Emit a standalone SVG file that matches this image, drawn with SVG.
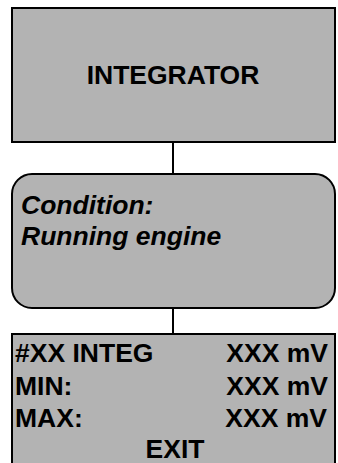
<svg xmlns="http://www.w3.org/2000/svg" width="338" height="463" viewBox="0 0 338 463">
<style>
.box{fill:#b3b3b3;stroke:#000;stroke-width:2}
.t{font-family:"Liberation Sans",Arial,sans-serif;font-size:26.5px;font-weight:bold;fill:#000}
.it{font-style:italic}
.c{stroke:#000;stroke-width:2;fill:none}
</style>
<rect width="338" height="463" fill="#fff"/>
<g id="connectors">
<line class="c" x1="173" y1="142" x2="173" y2="174"/>
<line class="c" x1="173" y1="308" x2="173" y2="334"/>
</g>
<g id="integrator">
<rect class="box" x="12" y="8" width="323" height="134"/>
<text class="t" x="173" y="84" text-anchor="middle">INTEGRATOR</text>
</g>
<g id="condition">
<rect class="box" x="12" y="174" width="323" height="134" rx="20" ry="20"/>
<text class="t it" x="21" y="214">Condition:</text>
<text class="t it" x="21" y="245">Running engine</text>
</g>
<g id="display">
<rect class="box" x="12" y="334" width="323" height="140"/>
<text class="t" x="15" y="362">#XX INTEG</text>
<text class="t" x="328" y="362" text-anchor="end">XXX mV</text>
<text class="t" x="15" y="395">MIN:</text>
<text class="t" x="328" y="395" text-anchor="end">XXX mV</text>
<text class="t" x="15" y="427">MAX:</text>
<text class="t" x="327" y="427" text-anchor="end">XXX mV</text>
<text class="t" x="175" y="458" text-anchor="middle">EXIT</text>
</g>
</svg>
